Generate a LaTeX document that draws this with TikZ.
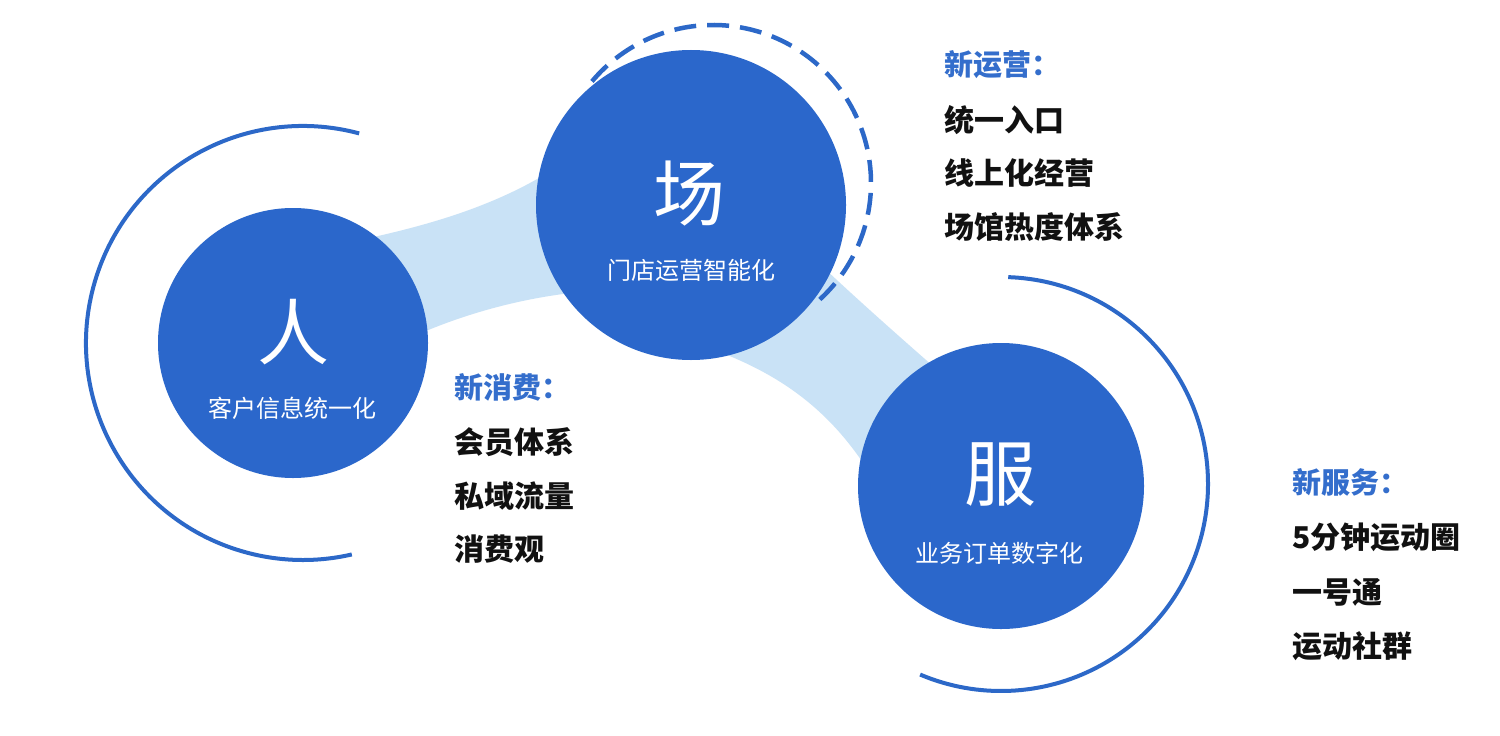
\documentclass[tikz,border=0pt]{standalone}
\usepackage{fontspec}
\setmainfont{Noto Sans CJK SC}
\usetikzlibrary{calc,backgrounds}
\definecolor{cblue}{RGB}{43,103,203}
\definecolor{arcblue}{RGB}{44,104,200}
\definecolor{bandblue}{RGB}{201,226,246}
\definecolor{hblue}{RGB}{52,110,204}
\definecolor{itemblack}{RGB}{17,17,17}
\tikzset{
  disc/.style={circle, fill=cblue, draw=none, inner sep=0pt},
  bigchar/.style={inner sep=0pt, text=white, font=\fontsize{72bp}{74bp}\selectfont},
  subtxt/.style={inner sep=0pt, text=white, font=\fontsize{24bp}{26bp}\selectfont},
  headtxt/.style={anchor=west, inner sep=0pt, text=hblue, font=\fontsize{29bp}{31bp}\selectfont\bfseries},
  itemtxt/.style={anchor=west, inner sep=0pt, text=itemblack, font=\fontsize{30bp}{32bp}\selectfont\bfseries},
  band/.style={fill=bandblue, draw=none},
  solidarc/.style={draw=arcblue, line width=4bp},
  dasharc/.style={draw=arcblue, line width=4.5bp, dash pattern=on 22bp off 11bp}
}
\begin{document}
\begin{tikzpicture}[x=1bp,y=-1bp]
\useasboundingbox (0,0) rectangle (1500,736);
% circles
\node[disc, minimum size=270bp] (ren) at (293,343) {};
\node[disc, minimum size=310bp] (chang) at (691,205) {};
\node[disc, minimum size=286bp] (fu) at (1001,486) {};
% background: bands and dashed arc
\begin{scope}[on background layer]
  \fill[white] (0,0) rectangle (1500,736);
  \fill[band] ($(ren.center)+(67,-103)$) .. controls (430,225) and (500,205) .. ($(chang.center)+(-131,-40)$)
     -- ($(chang.center)+(-111,87)$) .. controls (520,298) and (460,315) .. ($(ren.center)+(117,-5)$) -- cycle;
  \fill[band] ($(chang.center)+(114,45)$) .. controls (853,296) and (902,339) .. ($(fu.center)+(-51,-105)$)
     -- ($(fu.center)+(-121,4)$) .. controls (840,420) and (790,375) .. ($(chang.center)+(9,140)$) -- cycle;
  \draw[dasharc] (chang.center) ++(22,-22) ++(140:158bp) arc[start angle=140, end angle=-48, radius=158bp];
\end{scope}
% solid arcs
\draw[solidarc] (ren.center) ++(10,0) ++(75:217bp) arc[start angle=75, end angle=283, radius=217bp];
\draw[solidarc] (fu.center) ++(0,-2) ++(88:207bp) arc[start angle=88, end angle=-113, radius=207bp];
% circle texts
\node[bigchar] (renc) at (293,332) {人};
\node[subtxt] (rens) at (292,408) {客户信息统一化};
\node[bigchar] (changc) at (689,194) {场};
\node[subtxt] (changs) at (691,270) {门店运营智能化};
\node[bigchar] (fuc) at (1000,475) {服};
\node[subtxt] (fus) at (999,553) {业务订单数字化};
% side texts
\node[headtxt] (h1) at (944,65) {新运营：};
\node[itemtxt] (a1) at (944,120) {统一入口};
\node[itemtxt] (a2) at (944,173) {线上化经营};
\node[itemtxt] (a3) at (944,227) {场馆热度体系};
\node[headtxt] (h2) at (454,387) {新消费：};
\node[itemtxt] (b1) at (454,442) {会员体系};
\node[itemtxt] (b2) at (454,496) {私域流量};
\node[itemtxt] (b3) at (454,549) {消费观};
\node[headtxt] (h3) at (1292,482) {新服务：};
\node[itemtxt] (c1) at (1292,537) {5分钟运动圈};
\node[itemtxt] (c2) at (1292,592) {一号通};
\node[itemtxt] (c3) at (1292,646) {运动社群};
\end{tikzpicture}
\end{document}
